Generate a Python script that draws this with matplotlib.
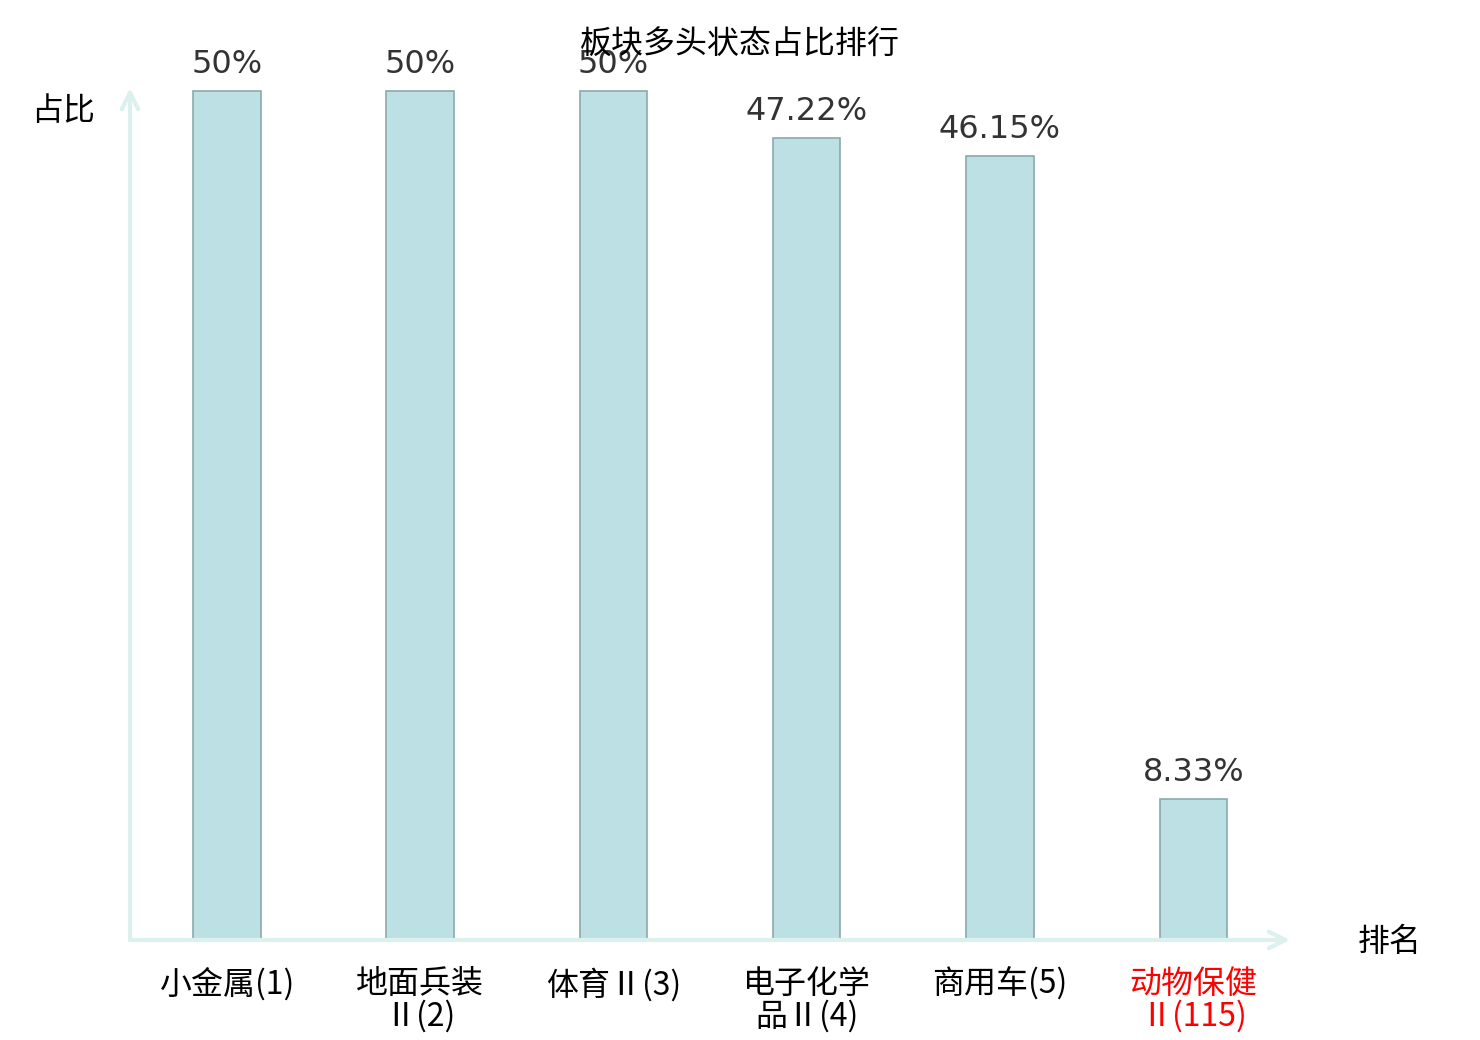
import matplotlib
matplotlib.use('Agg')
import matplotlib.pyplot as plt

plt.rcParams['font.family'] = ['Noto Sans CJK SC', 'DejaVu Sans']

categories = ['小金属(1)', '地面兵装\nⅡ(2)', '体育Ⅱ(3)', '电子化学\n品Ⅱ(4)', '商用车(5)', '动物保健\nⅡ(115)']
values = [50, 50, 50, 47.22, 46.15, 8.33]
label_colors = ['black', 'black', 'black', 'black', 'black', 'red']

W, H = 1480, 1040
fig = plt.figure(figsize=(W / 100, H / 100), dpi=100)
ax = fig.add_axes([130 / W, (H - 940) / H, (1290 - 130) / W, (940 - 88) / H])

x = list(range(len(categories)))
ax.bar(x, values, width=0.35, color='#bce0e3', edgecolor='#8aaaaa', linewidth=1.2, zorder=2)

ax.set_xlim(-0.5, 5.5)
ax.set_ylim(0, 50.18)
for s in ax.spines.values():
    s.set_visible(False)
ax.set_yticks([])
ax.set_xticks(x)
ax.set_xticklabels(categories, fontsize=23, linespacing=1.0)
ax.tick_params(axis='x', length=0, pad=20)
for lbl, c in zip(ax.get_xticklabels(), label_colors):
    lbl.set_color(c)
    lbl.set_verticalalignment('top')

# axis arrows
axis_col = '#dcf1ee'
ax.annotate('', xy=(1, 0), xytext=(0, 0), xycoords='axes fraction',
            arrowprops=dict(arrowstyle='->', color=axis_col, lw=3, mutation_scale=30,
                            shrinkA=0, shrinkB=0), annotation_clip=False)
ax.annotate('', xy=(0, 1), xytext=(0, 0), xycoords='axes fraction',
            arrowprops=dict(arrowstyle='->', color=axis_col, lw=3, mutation_scale=30,
                            shrinkA=0, shrinkB=0), annotation_clip=False)

for i, v in zip(x, values):
    ax.text(i, v + 0.65, f'{v:g}%', ha='center', va='bottom', fontsize=23,
            color='#333333', family='DejaVu Sans', zorder=3)

fig.text(740 / W, 1 - 45 / H, '板块多头状态占比排行', ha='center', va='center', fontsize=23, zorder=5)
fig.text(63 / W, 1 - 111 / H, '占比', ha='center', va='center', fontsize=23)
fig.text(1390 / W, 1 - 942 / H, '排名', ha='center', va='center', fontsize=23)

fig.savefig('out.png', dpi=100)
